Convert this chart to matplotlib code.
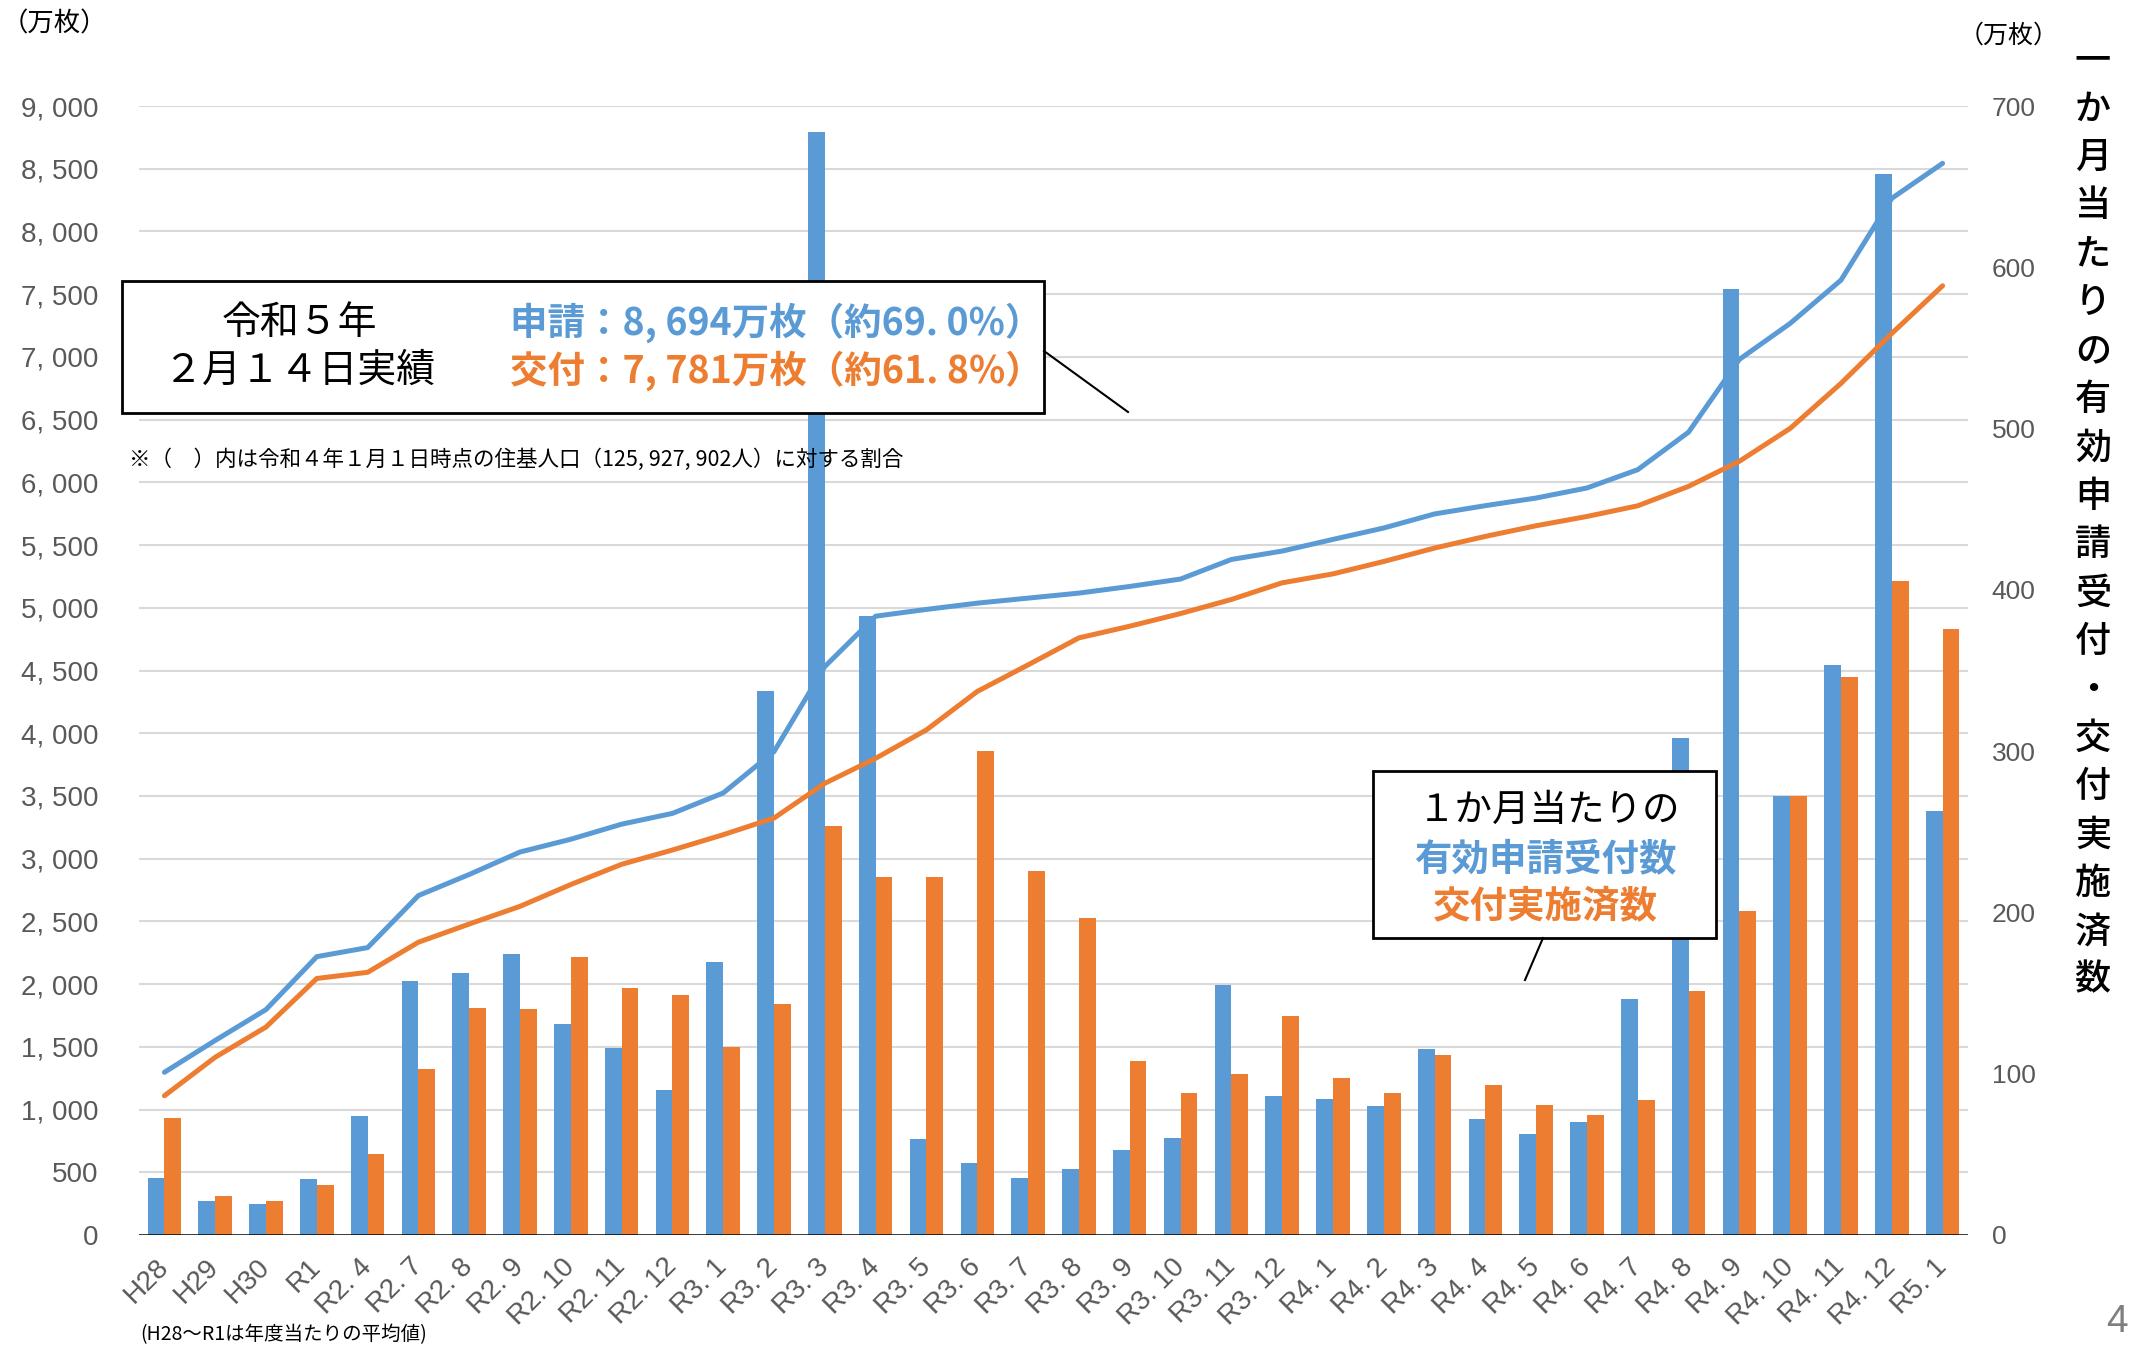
import matplotlib
matplotlib.use('Agg')
import matplotlib.pyplot as plt
from matplotlib.patches import Rectangle
from matplotlib.lines import Line2D
import numpy as np

plt.rcParams['font.family'] = ['Noto Sans CJK JP', 'DejaVu Sans']

# categories (H28-R1 are yearly averages)
months = ['H28', 'H29', 'H30', 'R1', 'R2. 4', 'R2. 7', 'R2. 8', 'R2. 9', 'R2. 10',
          'R2. 11', 'R2. 12', 'R3. 1', 'R3. 2', 'R3. 3', 'R3. 4', 'R3. 5', 'R3. 6',
          'R3. 7', 'R3. 8', 'R3. 9', 'R3. 10', 'R3. 11', 'R3. 12', 'R4. 1', 'R4. 2',
          'R4. 3', 'R4. 4', 'R4. 5', 'R4. 6', 'R4. 7', 'R4. 8', 'R4. 9', 'R4. 10',
          'R4. 11', 'R4. 12', 'R5. 1']

# monthly valid applications (right axis, 万枚)
monthly_apps = [35.4, 21.2, 19.3, 34.7, 73.8, 157.6, 162.2, 174.3, 131.0, 116.0,
                90.0, 169.1, 337.0, 684.0, 383.7, 59.7, 44.7, 35.6, 41.0, 52.4,
                60.3, 154.7, 85.9, 84.4, 80.1, 115.2, 72.2, 62.6, 70.1, 146.4,
                308.4, 586.5, 272.0, 353.5, 657.8, 262.9]

# monthly cards issued (right axis, 万枚)
monthly_issued = [72.8, 23.9, 21.2, 31.0, 50.3, 103.1, 140.8, 140.2, 172.2, 153.1,
                  148.9, 116.7, 143.1, 253.8, 222.0, 222.0, 300.0, 225.9, 196.6, 107.7,
                  87.8, 100.0, 135.8, 97.3, 87.8, 111.5, 92.8, 80.9, 74.4, 84.0,
                  151.4, 200.7, 272.0, 346.0, 405.6, 375.7]

# cumulative applications / issued (left axis, 万枚)
cum_apps = [1297, 1551, 1797, 2219, 2291, 2706, 2874, 3053, 3155, 3275,
            3361, 3524, 3854, 4532, 4933, 4987, 5037, 5077, 5117, 5170,
            5229, 5385, 5452, 5545, 5636, 5748, 5814, 5875, 5955, 6101,
            6400, 6980, 7267, 7612, 8264, 8543]
cum_issued = [1110, 1417, 1658, 2045, 2094, 2334, 2479, 2620, 2794, 2955,
              3069, 3191, 3324, 3601, 3800, 4027, 4333, 4545, 4760, 4853,
              4954, 5066, 5199, 5270, 5369, 5476, 5569, 5654, 5728, 5813,
              5968, 6168, 6430, 6789, 7187, 7567]

left_ticks = list(range(0, 9001, 500))
right_ticks = list(range(0, 701, 100))

BLUE = '#5B9BD5'
ORANGE = '#ED7D31'
GRID = '#D9D9D9'
TICK = '#595959'
NUM_FONT = ['Liberation Sans', 'DejaVu Sans']

W, H = 2131, 1347


def fx(px):
    return px / W


def fy(py):
    return 1 - py / H


fig = plt.figure(figsize=(W / 100, H / 100), dpi=100)
ax = fig.add_axes([fx(139), fy(1235), fx(1968) - fx(139), fy(106) - fy(1235)])
ax2 = ax.twinx()

x = np.arange(len(months))
w = 0.33

# bars on the right axis, behind
ax2.hlines([v * 700 / 9000 for v in left_ticks[1:]], -0.5, len(months) - 0.5,
           color=GRID, lw=1.5, zorder=1)
ax2.bar(x - w / 2, monthly_apps, w, color=BLUE, zorder=2)
ax2.bar(x + w / 2, monthly_issued, w, color=ORANGE, zorder=2)
ax2.set_ylim(0, 700)

# cumulative lines on the left axis, on top
ax.plot(x, cum_apps, color=BLUE, lw=3.6, solid_capstyle='round',
        solid_joinstyle='round', zorder=3)
ax.plot(x, cum_issued, color=ORANGE, lw=3.6, solid_capstyle='round',
        solid_joinstyle='round', zorder=3)
ax.axhline(0, color='black', lw=1.8, zorder=4)
ax.set_ylim(0, 9000)
ax.set_xlim(-0.5, len(months) - 0.5)
ax.set_zorder(ax2.get_zorder() + 1)
ax.patch.set_visible(False)

for a in (ax, ax2):
    for s in a.spines.values():
        s.set_visible(False)

ax.set_yticks(left_ticks)
ax.set_yticklabels([f'{v:,}'.replace(',', ', ') for v in left_ticks],
                   family=NUM_FONT, fontsize=20, color=TICK)
ax.tick_params(axis='y', length=0, pad=29)

ax2.set_yticks(right_ticks)
ax2.set_yticklabels([str(v) for v in right_ticks], family=NUM_FONT,
                    fontsize=19, color=TICK)
ax2.tick_params(axis='y', length=0, pad=17)

ax.set_xticks(x)
ax.set_xticklabels(months, rotation=45, ha='right', va='center',
                   rotation_mode='anchor', family=NUM_FONT, fontsize=20, color=TICK)
ax.tick_params(axis='x', length=0, pad=20)

# unit labels
fig.text(fx(54), fy(24), '（万枚）', ha='center', va='center', fontsize=19)
fig.text(fx(2009), fy(36), '（万枚）', ha='center', va='center', fontsize=18)

# vertical right axis title
vlabel = '一か月当たりの有効申請受付・交付実施済数'
for i, ch in enumerate(vlabel):
    fig.text(fx(2093), fy(61 + i * 48.4), ch, ha='center', va='center',
             fontsize=26, fontweight='medium')

# summary box
fig.add_artist(Rectangle((fx(122), fy(413)), fx(1044) - fx(122), fy(281) - fy(413),
                         transform=fig.transFigure, facecolor='white',
                         edgecolor='black', lw=2, zorder=5))
fig.add_artist(Line2D([fx(1044), fx(1128)], [fy(351), fy(412)],
                      transform=fig.transFigure, color='black', lw=1.5, zorder=5))
fig.text(fx(299), fy(323), '令和５年', ha='center', va='center', fontsize=28, zorder=6)
fig.text(fx(299), fy(371), '２月１４日実績', ha='center', va='center', fontsize=28, zorder=6)
fig.text(fx(510), fy(323), '申請：8, 694万枚（約69. 0%）', ha='left', va='center',
         fontsize=27, fontweight='bold', color=BLUE, zorder=6)
fig.text(fx(510), fy(371), '交付：7, 781万枚（約61. 8%）', ha='left', va='center',
         fontsize=27, fontweight='bold', color=ORANGE, zorder=6)
fig.text(fx(129), fy(460),
         '※（　）内は令和４年１月１日時点の住基人口（125, 927, 902人）に対する割合',
         ha='left', va='center', fontsize=15.5, zorder=6)

# legend-like box for bars
fig.add_artist(Rectangle((fx(1373), fy(938)), fx(1716) - fx(1373), fy(771) - fy(938),
                         transform=fig.transFigure, facecolor='white',
                         edgecolor='black', lw=2, zorder=5))
fig.add_artist(Line2D([fx(1543), fx(1525)], [fy(938), fy(980)],
                      transform=fig.transFigure, color='black', lw=1.5, zorder=5))
fig.text(fx(1549), fy(810), '１か月当たりの', ha='center', va='center', fontsize=27, zorder=6)
fig.text(fx(1545), fy(860), '有効申請受付数', ha='center', va='center', fontsize=27,
         fontweight='bold', color=BLUE, zorder=6)
fig.text(fx(1545), fy(907), '交付実施済数', ha='center', va='center', fontsize=27,
         fontweight='bold', color=ORANGE, zorder=6)

fig.text(fx(140), fy(1335), '(H28～R1は年度当たりの平均値)', ha='left', va='center',
         fontsize=14)
fig.text(fx(2128), fy(1322), '4', ha='right', va='center', fontsize=28,
         color='#7F7F7F', family=NUM_FONT)

fig.savefig('out.png', dpi=100)
